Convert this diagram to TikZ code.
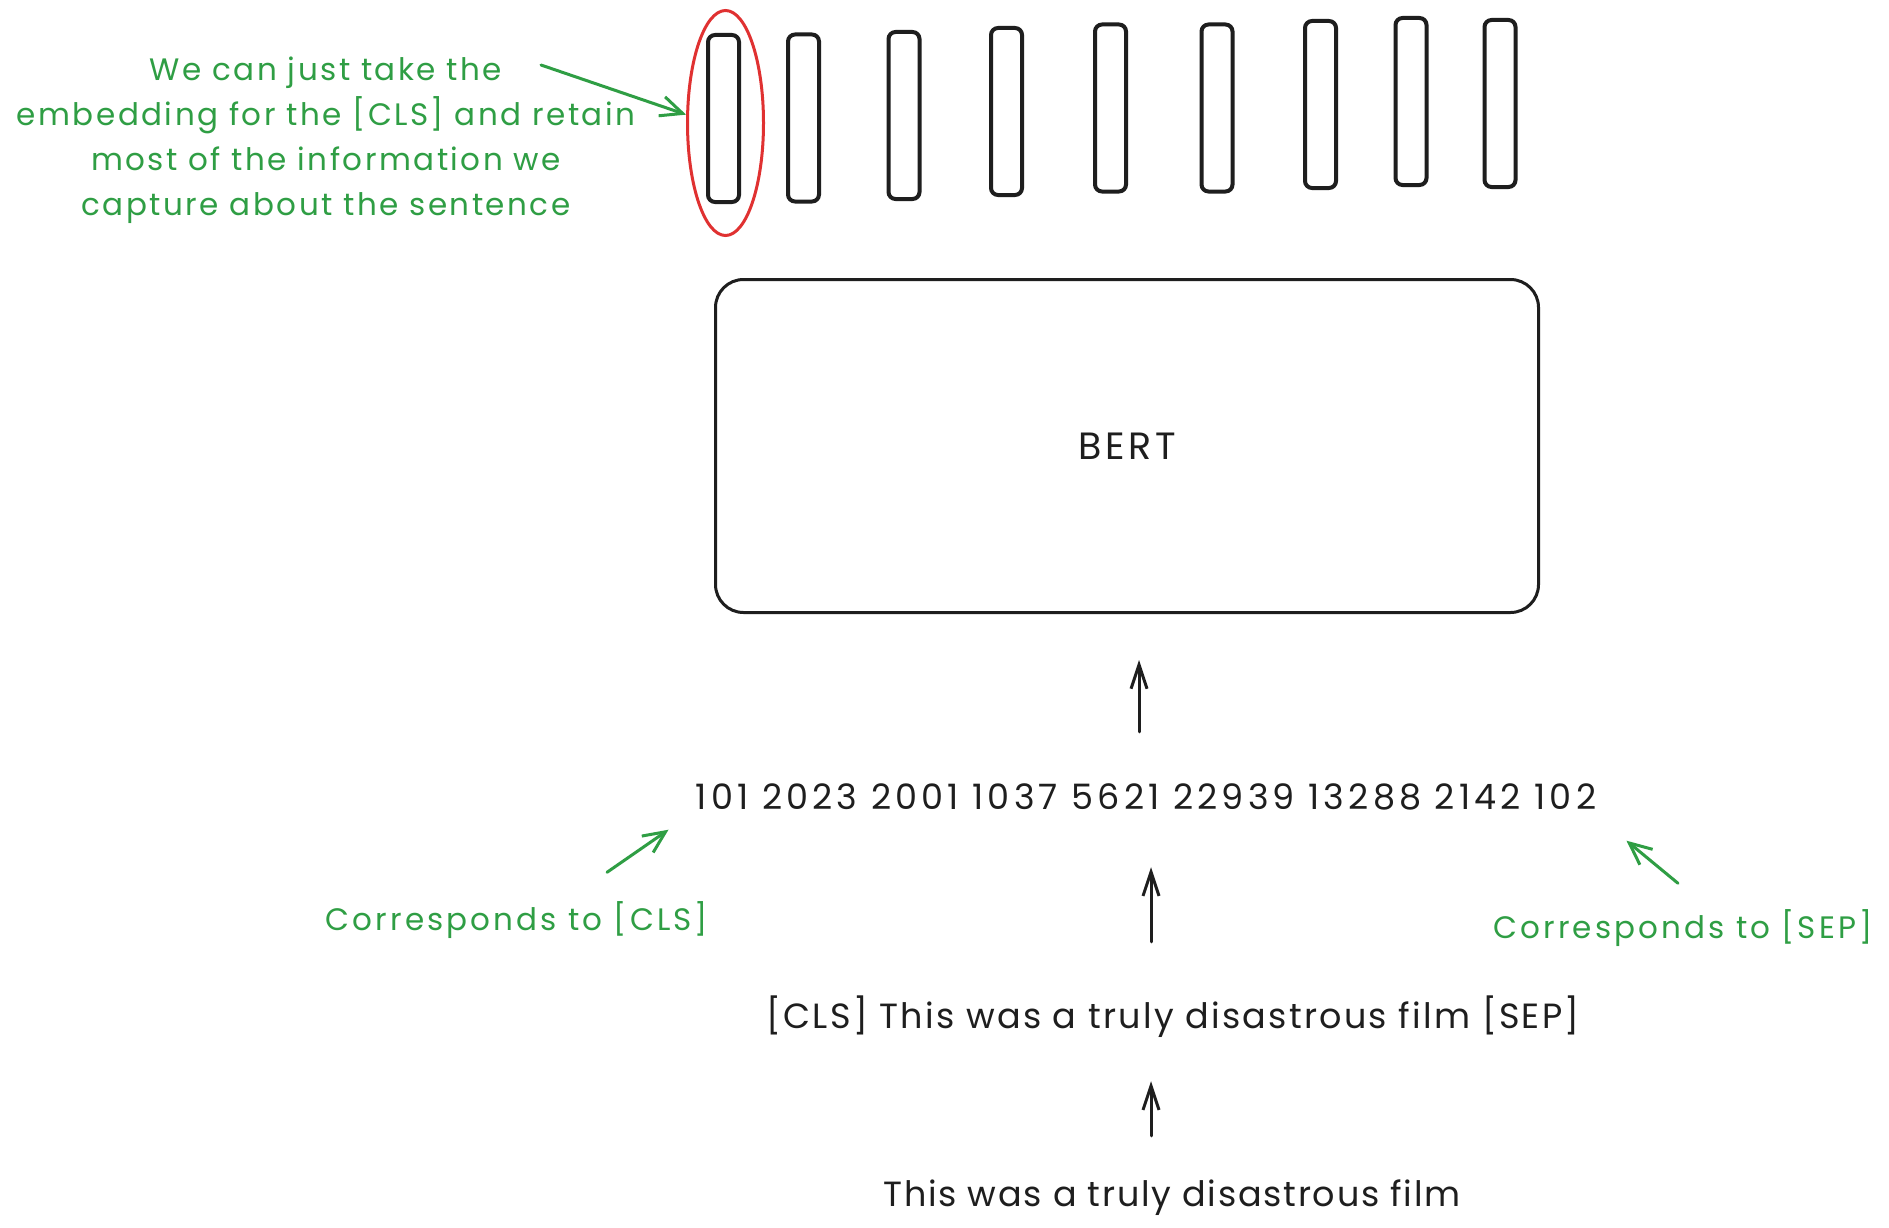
\documentclass[tikz,border=0pt]{standalone}
\usepackage{fontspec}
\setmainfont{Poppins}
\usetikzlibrary{arrows.meta,shapes.geometric,calc}
\definecolor{ink}{HTML}{1E1E1E}
\definecolor{grn}{HTML}{2F9E44}
\definecolor{redc}{HTML}{E03131}
\newcommand{\ls}[1]{\addfontfeature{LetterSpace=#1}}
\tikzset{
  bar/.style={draw=ink, line width=4pt, rounded corners=7pt, minimum width=31pt, minimum height=167pt, inner sep=0pt},
  bertbox/.style={draw=ink, line width=3pt, rounded corners=28pt, minimum width=823pt, minimum height=333pt,
    font=\fontsize{38}{40}\selectfont\ls{10}, text=ink},
  blacktext/.style={text=ink, inner sep=0pt, text height=24pt, text depth=8pt, font=\fontsize{35}{40}\selectfont},
  greentext/.style={text=grn, inner sep=0pt, text height=23pt, text depth=7pt, font=\fontsize{31}{36}\selectfont\ls{10}},
  barrow/.style={draw=ink, line width=3pt, line cap=round, -{Straight Barb[length=24pt,width=16pt]}},
  garrow/.style={draw=grn, line width=3pt, line cap=round, -{Straight Barb[length=22pt,width=20pt]}},
  hilite/.style={draw=redc, line width=3pt, ellipse, minimum width=76pt, minimum height=225pt, inner sep=0pt}
}
\begin{document}
\begin{tikzpicture}[x=1pt,y=-1pt]
\useasboundingbox (0,0) rectangle (1889,1228);
\fill[white] (0,0) rectangle (1889,1228);
% embedding bars
\node[bar] (b1) at (723.5,118.5) {};
\node[bar] (b2) at (803.5,118) {};
\node[bar] (b3) at (904,115.5) {};
\node[bar] (b4) at (1006.5,111.5) {};
\node[bar] (b5) at (1110.5,108) {};
\node[bar] (b6) at (1217,108) {};
\node[bar] (b7) at (1320.5,104.5) {};
\node[bar] (b8) at (1411,101.5) {};
\node[bar] (b9) at (1500,103.5) {};
% highlight
\node[hilite] (hl) at (725.5,123) {};
% note
\node[text=grn, align=center, inner sep=0pt, font=\fontsize{31}{45}\selectfont\ls{8}] (note) at (326,140)
  {We can just take the\\embedding for the [CLS] and retain\\most of the information we\\capture about the sentence};
\coordinate (notetail) at (541,65);
\draw[garrow] (notetail) -- (hl.168);
% BERT
\node[bertbox] (bert) at (1127,446) {BERT};
% token ids
\node[blacktext, font=\fontsize{35}{40}\selectfont\ls{12}] (nums) at (1146,801) {101 2023 2001 1037 5621 22939 13288 2142 102};
\node[blacktext, font=\fontsize{35}{40}\selectfont\ls{6.5}] (sent1) at (1173,1020) {[CLS] This was a truly disastrous film [SEP]};
\node[blacktext, font=\fontsize{35}{40}\selectfont\ls{5}] (sent0) at (1172,1198) {This was a truly disastrous film};
\node[greentext] (cls) at (517,922) {Corresponds to [CLS]};
\node[greentext] (sep) at (1683,930) {Corresponds to [SEP]};
% arrows
\draw[barrow, shorten <=53pt, shorten >=46pt] (nums.north -| 1139,0) -- (bert.south -| 1139,0);
\draw[barrow, shorten <=62pt, shorten >=50pt] (sent1.north -| 1151,0) -- (nums.south -| 1151,0);
\draw[barrow, shorten <=46pt, shorten >=45pt] (sent0.north -| 1151,0) -- (sent1.south -| 1151,0);
\draw[garrow] ([xshift=90pt,yshift=34.5pt]cls.north) -- ([xshift=-27pt,yshift=-12.5pt]nums.south west);
\draw[garrow] ([xshift=-5pt,yshift=31.5pt]sep.north) -- ([xshift=30pt,yshift=-23.5pt]nums.south east);
\end{tikzpicture}
\end{document}
